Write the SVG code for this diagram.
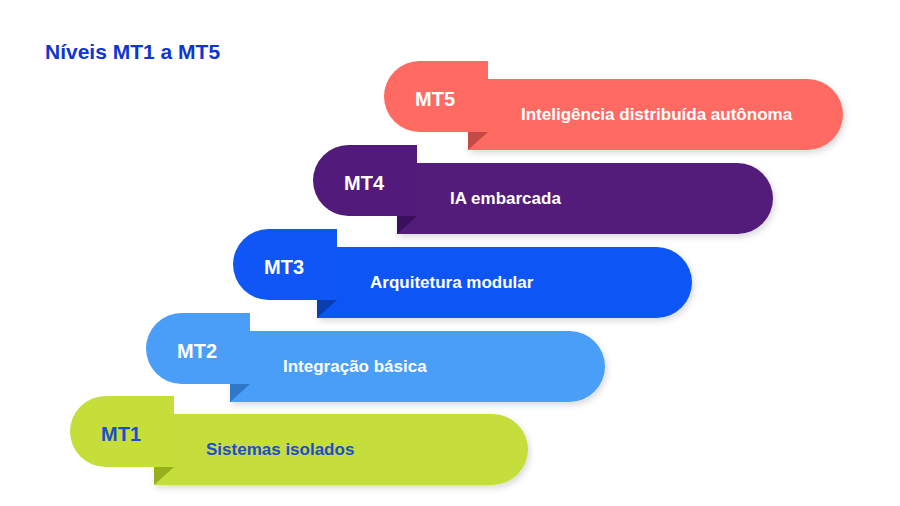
<svg xmlns="http://www.w3.org/2000/svg" width="900" height="506" viewBox="0 0 900 506">
<defs>
<style>
.mt{font-family:"Liberation Sans",Arial,sans-serif;font-weight:bold;font-size:20px;fill:#fff}
.lb{font-family:"Liberation Sans",Arial,sans-serif;font-weight:bold;font-size:17px;fill:#fff}
</style>
<filter id="sh" x="-10%" y="-20%" width="120%" height="150%"><feDropShadow dx="2" dy="3" stdDeviation="3" flood-color="#000" flood-opacity="0.15"/></filter>
</defs>
<rect width="900" height="506" fill="#fff"/>
<text x="45" y="59" font-family="Liberation Sans,Arial,sans-serif" font-weight="bold" font-size="21" fill="#1035D0">Níveis MT1 a MT5</text>
<g id="mt5">
<path d="M468,79 H807.5 A35.5,35.5 0 0 1 807.5,150 H468 Z" fill="#FF6B63" filter="url(#sh)"/>
<path d="M468,132 L488,132 L468,150 Z" fill="#C44A45"/>
<path d="M419.5,61 H488 V132 H419.5 A35.5,35.5 0 0 1 419.5,61 Z" fill="#FF6B63"/>
<text class="mt" x="415" y="106">MT5</text>
<text class="lb" x="521" y="120">Inteligência distribuída autônoma</text>
</g>
<g id="mt4">
<path d="M397,163 H737.5 A35.5,35.5 0 0 1 737.5,234 H397 Z" fill="#521A7A" filter="url(#sh)"/>
<path d="M397,216 L417,216 L397,234 Z" fill="#3A0F5C"/>
<path d="M348.5,145 H417 V216 H348.5 A35.5,35.5 0 0 1 348.5,145 Z" fill="#521A7A"/>
<text class="mt" x="344" y="190">MT4</text>
<text class="lb" x="450" y="204">IA embarcada</text>
</g>
<g id="mt3">
<path d="M317,247 H656.5 A35.5,35.5 0 0 1 656.5,318 H317 Z" fill="#1055F5" filter="url(#sh)"/>
<path d="M317,300 L337,300 L317,318 Z" fill="#0A3DB0"/>
<path d="M268.5,229 H337 V300 H268.5 A35.5,35.5 0 0 1 268.5,229 Z" fill="#1055F5"/>
<text class="mt" x="264" y="274">MT3</text>
<text class="lb" x="370" y="288">Arquitetura modular</text>
</g>
<g id="mt2">
<path d="M230,331 H569.5 A35.5,35.5 0 0 1 569.5,402 H230 Z" fill="#4A9EF7" filter="url(#sh)"/>
<path d="M230,384 L250,384 L230,402 Z" fill="#2F77C7"/>
<path d="M181.5,313 H250 V384 H181.5 A35.5,35.5 0 0 1 181.5,313 Z" fill="#4A9EF7"/>
<text class="mt" x="177" y="358">MT2</text>
<text class="lb" x="283" y="372">Integração básica</text>
</g>
<g id="mt1">
<path d="M154,414 H492.5 A35.5,35.5 0 0 1 492.5,485 H154 Z" fill="#C5DE3A" filter="url(#sh)"/>
<path d="M154,467 L174,467 L154,485 Z" fill="#97AE1E"/>
<path d="M105.5,396 H174 V467 H105.5 A35.5,35.5 0 0 1 105.5,396 Z" fill="#C5DE3A"/>
<text class="mt" x="101" y="441" style="fill:#1A4FCB">MT1</text>
<text class="lb" x="206" y="455" style="fill:#1A4FCB">Sistemas isolados</text>
</g>
<g id="connectors"/>
</svg>
